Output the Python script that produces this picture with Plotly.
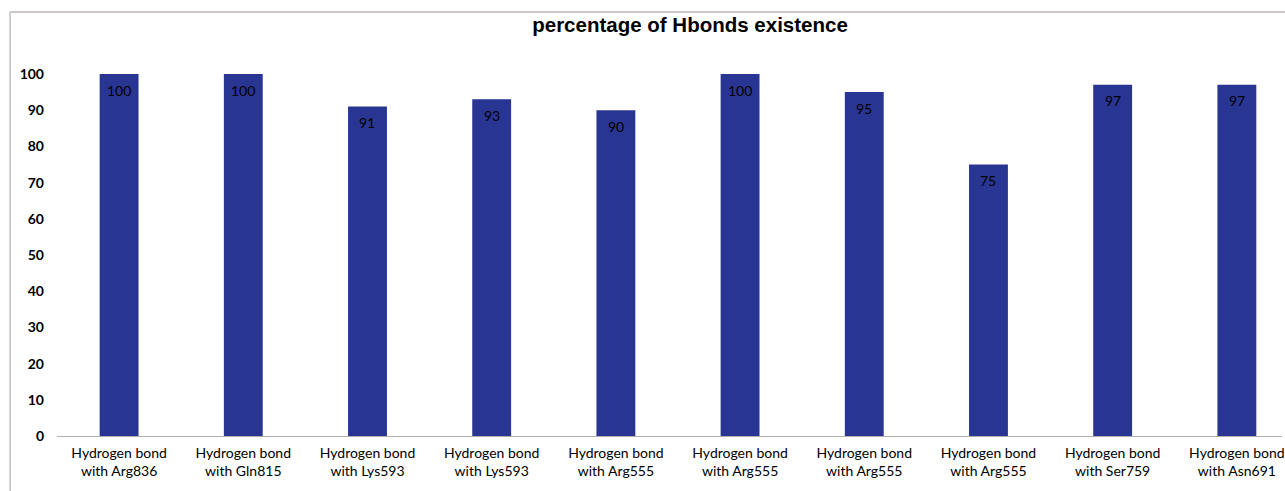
import plotly.graph_objects as go

categories = ["Hydrogen bond<br>with Arg836", "Hydrogen bond<br>with Gln815", "Hydrogen bond<br>with Lys593",
              "Hydrogen bond<br>with Lys593", "Hydrogen bond<br>with Arg555", "Hydrogen bond<br>with Arg555",
              "Hydrogen bond<br>with Arg555", "Hydrogen bond<br>with Arg555", "Hydrogen bond<br>with Ser759",
              "Hydrogen bond<br>with Asn691"]
values = [100, 100, 91, 93, 90, 100, 95, 75, 97, 97]
y_ticks = [0, 10, 20, 30, 40, 50, 60, 70, 80, 90, 100]

W, H = 1285, 491
L, T, B = 57, 50, 55
x = list(range(len(categories)))

fig = go.Figure()
fig.add_trace(go.Bar(x=x, y=values, width=0.313, marker=dict(color="#283593", line=dict(width=0)),
                     hoverinfo="skip"))

for xi, v in zip(x, values):
    fig.add_annotation(x=xi, y=v, xref="x", yref="y", text=str(v), showarrow=False,
                       yshift=-16, font=dict(family="Lato", size=14, color="black"))

plot_w = W - L
plot_h = H - T - B
px_per_unit = 124.5
xmax = -0.5 + plot_w / px_per_unit
ymax = 100 * plot_h / (436 - 74)

# border lines (left & top) of chart frame
lx = (10 - L) / plot_w
ty = (H - B - 12) / plot_h
fig.add_shape(type="line", xref="paper", yref="paper", x0=lx, x1=lx, y0=ty, y1=-0.3,
              line=dict(color="#bdb5b3", width=1.3))
fig.add_shape(type="line", xref="paper", yref="paper", x0=lx, x1=1.05, y0=ty, y1=ty,
              line=dict(color="#bdb5b3", width=1.3))

fig.update_layout(
    width=W, height=H,
    margin=dict(l=L, r=0, t=T, b=B),
    paper_bgcolor="white", plot_bgcolor="white",
    showlegend=False,
    title=dict(text="percentage of Hbonds existence", x=690 / W, xanchor="center",
               y=1 - 25 / H, yanchor="middle",
               font=dict(family="Liberation Sans", size=20.5, color="black", weight="bold")),
    xaxis=dict(range=[-0.5, xmax], tickvals=x, ticktext=categories, showgrid=False,
               showline=True, linecolor="#b5aeae", linewidth=1.3, ticks="", zeroline=False,
               tickfont=dict(family="Lato", size=14, color="black"), ticklabelstandoff=4,
               ticklabeloverflow="allow"),
    yaxis=dict(range=[0, ymax], tickvals=y_ticks, showgrid=False, showline=False, zeroline=False,
               ticks="", tickfont=dict(family="Lato", size=14, color="black", weight="bold"),
               ticklabelstandoff=12),
)

fig.write_html("out.html")
